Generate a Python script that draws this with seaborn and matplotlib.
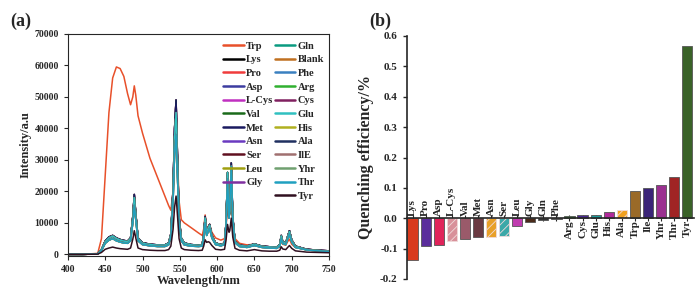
import matplotlib
matplotlib.use("Agg")
import matplotlib.pyplot as plt
import pandas as pd
import seaborn as sns
from matplotlib.lines import Line2D
from matplotlib.ticker import FormatStrFormatter

# wavelength grid (nm) and the spectra
wl = [400, 420, 440, 445, 450, 455, 460, 465, 470, 475, 480, 484, 487, 489, 491,
      494, 500, 510, 520, 530, 535, 538, 541, 543, 545, 547, 549, 552, 556, 565,
      575, 580, 582, 584, 586, 588, 590, 593, 598, 605, 610, 612, 614, 616, 617,
      619, 621, 624, 630, 640, 650, 660, 670, 680, 684, 686, 688, 692, 695, 697,
      700, 705, 720, 735, 750]

spec_trp = [0, 0, 300, 5000, 25000, 45000, 56000, 59500, 59000, 56500,
            51000, 47500, 50000, 53500, 50500, 44000, 38500, 30500, 24500, 18500,
            15500, 14000, 20000, 33000, 40000, 30000, 17000, 11000, 10000, 8500,
            6800, 6000, 8000, 12500, 8500, 8500, 9500, 7000, 5200, 4500,
            5000, 9000, 14000, 12000, 13000, 20000, 10000, 5000, 3500, 3000,
            3200, 2600, 2400, 2100, 2300, 4500, 3200, 2900, 4200, 4800,
            3200, 2200, 1600, 1300, 1000]
spec_high = [0, 0, 100, 1500, 4200, 5500, 6000, 5200, 4700, 4400,
             4200, 5200, 12000, 19000, 13000, 5200, 3700, 3200, 3000, 3000,
             3600, 6500, 21000, 40000, 49000, 30000, 12000, 5200, 3600, 3100,
             2900, 3100, 6000, 12000, 7000, 8500, 9500, 6000, 3600, 3100,
             3600, 10000, 25000, 12000, 14000, 29000, 12000, 4200, 2900, 2600,
             3300, 2600, 2400, 2300, 3100, 6000, 4000, 3600, 6000, 7500,
             4600, 2600, 1600, 1300, 1100]
spec_mid = [0, 0, 100, 1500, 4000, 5200, 5800, 5000, 4500, 4200,
            4000, 5000, 11500, 18000, 12500, 5000, 3500, 3100, 2900, 2900,
            3500, 6200, 20000, 37000, 45000, 28000, 11000, 5000, 3500, 3000,
            2800, 3000, 5800, 11500, 6800, 8200, 9200, 5800, 3500, 3000,
            3500, 9800, 26000, 12500, 14500, 27500, 11500, 4000, 2800, 2500,
            3200, 2500, 2300, 2200, 3000, 5800, 3900, 3500, 5800, 7200,
            4400, 2500, 1500, 1200, 1000]
spec_cyan = [0, 0, 80, 1200, 3500, 4500, 5000, 4300, 3900, 3600,
             3500, 4300, 10000, 15500, 11000, 4300, 3100, 2700, 2500, 2500,
             3000, 5500, 17000, 32000, 38000, 24000, 9500, 4300, 3000, 2600,
             2500, 2600, 5000, 10000, 6000, 7200, 8200, 5200, 3100, 2700,
             3100, 9000, 24000, 11500, 14000, 28000, 11000, 3700, 2500, 2200,
             2800, 2200, 2000, 1900, 2600, 5000, 3400, 3100, 5200, 6500,
             3900, 2200, 1400, 1100, 900]
spec_low = [0, 0, 50, 600, 1600, 2000, 2300, 2000, 1800, 1700,
            1600, 2000, 4800, 7500, 5200, 2000, 1500, 1300, 1200, 1200,
            1500, 2600, 8000, 15000, 18500, 12000, 5000, 2000, 1500, 1300,
            1200, 1300, 2600, 4600, 3800, 4000, 3800, 2800, 1600, 1400,
            1600, 4500, 9500, 7000, 7500, 11500, 5500, 1900, 1300, 1100,
            1500, 1100, 1000, 1000, 1300, 2400, 1700, 1500, 2300, 2800,
            1900, 1100, 700, 600, 500]
spectra = {"trp": spec_trp, "high": spec_high, "mid": spec_mid,
           "cyan": spec_cyan, "low": spec_low}

series_names = ["Trp", "Lys", "Pro", "Asp", "L-Cys", "Val", "Met", "Asn", "Ser",
                "Leu", "Gly", "Gln", "Blank", "Phe", "Arg", "Cys", "Glu", "His",
                "Ala", "IlE", "Yhr", "Thr", "Tyr"]
series_colors = ["#e8502a", "#000000", "#f03c3c", "#3c3ca0", "#c030c0", "#1a6a1a",
                 "#1a1a60", "#6a3ac0", "#601020", "#a0a010", "#8030a0", "#0a9a80",
                 "#c07020", "#3a80c0", "#30b030", "#802060", "#30c0c0", "#b0b020",
                 "#203060", "#a07070", "#70a070", "#20a0c0", "#301020"]
series_group = ["trp", "high", "high", "high", "high", "high", "high", "mid", "mid",
                "mid", "mid", "mid", "mid", "mid", "mid", "mid", "mid", "cyan",
                "cyan", "cyan", "cyan", "cyan", "low"]

# quenching efficiency bars
aa = ["Lys", "Pro", "Asp", "L-Cys", "Val", "Met", "Asn", "Ser", "Leu", "Gly", "Gln",
      "Phe", "Arg", "Cys", "Glu", "His", "Ala", "Trp", "Ile", "Yhr", "Thr", "Tyr"]
qe = [-0.139, -0.09, -0.087, -0.074, -0.067, -0.063, -0.062, -0.059, -0.027, -0.011,
      -0.005, -0.001, 0.009, 0.012, 0.012, 0.02, 0.026, 0.089, 0.1, 0.109, 0.136, 0.567]
bar_colors = ["#d83a1e", "#5a2d9c", "#e0245a", "#d8909a", "#9a5a6a", "#6a3a42",
              "#e8a028", "#3aa8a8", "#c03cb0", "#4a2a1a", "#333333", "#333333",
              "#2a9a2a", "#4a2a92", "#1a9a9a", "#b02a9a", "#f0a020", "#9a6a28",
              "#3a2478", "#9a3090", "#a02424", "#3a6228"]
hatched = ["L-Cys", "Asn", "Ser", "Ala"]

sns.set_style("ticks")
plt.rcParams["font.family"] = ["Liberation Serif", "DejaVu Serif"]
plt.rcParams["font.weight"] = "bold"
plt.rcParams["axes.labelweight"] = "bold"
plt.rcParams["hatch.linewidth"] = 0.6

fig = plt.figure(figsize=(7, 3), dpi=100)
ax1 = fig.add_axes([0.097, 0.147, 0.373, 0.74])
ax2 = fig.add_axes([0.581, 0.07, 0.41, 0.81])

# (a) spectra
for name, col, grp in zip(series_names, series_colors, series_group):
    sns.lineplot(x=wl, y=spectra[grp], color=col, lw=1.1, ax=ax1,
                 estimator=None, sort=False, legend=False)
ax1.set_xlim(400, 750)
ax1.set_ylim(-500, 70000)
ax1.set_xticks(range(400, 751, 50))
ax1.set_yticks(range(0, 70001, 10000))
ax1.tick_params(labelsize=7, length=3, width=0.8)
ax1.set_xlabel("Wavelength/nm", fontsize=9, labelpad=1)
ax1.set_ylabel("Intensity/a.u", fontsize=9, labelpad=2)
for s in ax1.spines.values():
    s.set_linewidth(0.8)

handles = [Line2D([], [], color=c, lw=1.8) for c in series_colors]
labels = list(series_names)
handles.insert(11, Line2D([], [], color="none"))
labels.insert(11, "")
ax1.legend(handles, labels, ncol=2, loc="upper right", frameon=False, fontsize=7.5,
           handlelength=2.0, handletextpad=0.2, columnspacing=0.1,
           labelspacing=0.42, borderaxespad=0.1, bbox_to_anchor=(1.0, 0.99))

# (b) quenching efficiency
df = pd.DataFrame({"aa": aa, "qe": qe})
sns.barplot(data=df, x="aa", y="qe", hue="aa", palette=bar_colors, legend=False,
            ax=ax2, width=0.78, edgecolor="#555555", linewidth=0.6, saturation=1)
for patch, name in zip(ax2.patches, aa):
    if name in hatched:
        patch.set_hatch("////")
        patch.set_edgecolor("#f0dada")
ax2.set_ylim(-0.2, 0.6)
ax2.set_xlim(-0.45, len(aa) - 0.5)
ax2.set_yticks([-0.2, -0.1, 0.0, 0.1, 0.2, 0.3, 0.4, 0.5, 0.6])
ax2.yaxis.set_major_formatter(FormatStrFormatter("%.1f"))
ax2.spines["top"].set_visible(False)
ax2.spines["right"].set_visible(False)
ax2.spines["bottom"].set_position(("data", 0))
ax2.spines["bottom"].set_linewidth(1.2)
ax2.spines["left"].set_linewidth(1.2)
ax2.set_xticks(range(len(aa)))
ax2.set_xticklabels([])
ax2.tick_params(axis="x", direction="inout", length=5, width=0.8)
ax2.tick_params(axis="y", labelsize=8, length=3, width=1)
ax2.set_xlabel("")
ax2.set_ylabel("Quenching efficiency/%", fontsize=11.5, labelpad=4)
for i, (name, v) in enumerate(zip(aa, qe)):
    if v < 0:
        ax2.text(i, 0.006, name, rotation=90, ha="center", va="bottom", fontsize=8)
    else:
        ax2.text(i, -0.006, name, rotation=90, ha="center", va="top", fontsize=8)

fig.text(0.015, 0.915, "(a)", fontsize=13, fontweight="bold")
fig.text(0.527, 0.915, "(b)", fontsize=13, fontweight="bold")

fig.savefig("out.png", dpi=100)
